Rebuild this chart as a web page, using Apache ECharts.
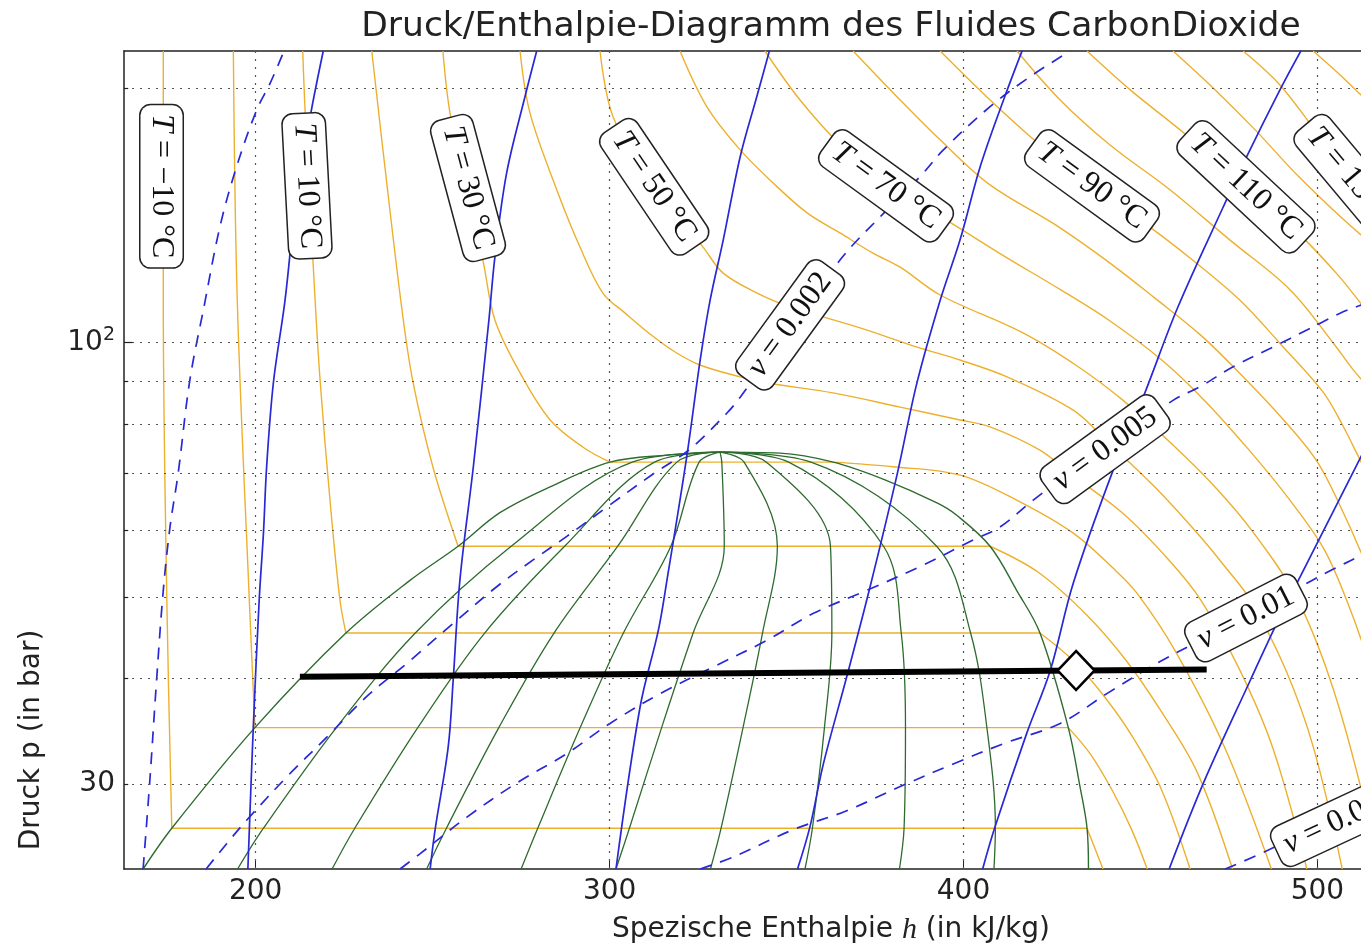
<!DOCTYPE html>
<html>
<head>
<meta charset="utf-8">
<script src="https://cdn.jsdelivr.net/npm/echarts@6.0.0/dist/echarts.min.js"></script>
<style>
html,body{margin:0;padding:0;background:#fff;}
#chart{width:1361px;height:949px;}
</style>
</head>
<body>
<div id="chart"></div>
<script>
// ---------- axes ----------
const hMin = 162.8, hMax = 512.3;          // kJ/kg
const pMin = 23.8,  pMax = 221.6;          // bar
const hTicks = [200, 300, 400, 500];
const pGrid  = [30, 40, 50, 60, 70, 80, 90, 100, 200];
const pMajor = [100];

// ---------- isotherms (h kJ/kg, p bar) ----------
const T_m10_liq = [[173.9,221.6],[173.9,112.3],[174.9,49.6],[176.3,26.6]];
const T_m10_vap = [[434.9,26.6],[439.4,23.8]];
const T_0_liq  = [[193.7,221.6],[194.8,112.3],[198.2,49.6],[199.8,35.0]];
const T_0_vap  = [[429.6,35.0],[436.0,32.5],[442.0,29.5],[447.5,26.5],[451.9,23.8]];
const T_10_liq = [[213.3,221.6],[214.0,187.0],[216.8,112.3],[218.2,90.3],[221.0,65.1],[223.8,49.6],[225.5,45.3]];
const T_10_vap = [[421.6,45.3],[431.0,42.0],[440.0,38.0],[448.0,34.0],[456.0,29.5],[464.0,23.8]];
const T_20_liq = [[232.8,221.6],[237.1,153.8],[241.6,107.3],[244.5,89.6],[250.1,71.2],[257.2,57.4]];
const T_20_vap = [[407.5,57.4],[421.0,53.5],[435.0,47.5],[446.0,42.0],[456.0,36.5],[466.0,31.0],[476.0,23.8]];
const T_30_liq = [[252.9,221.6],[254.9,187.2],[259.5,152.5],[264.2,125.3],[267.6,106.4],[274.7,92.1],[283.2,81.0],[292.5,75.2],[300.1,72.2]];
const T_30_vap = [[363.2,72.2],[380.0,71.3],[399.0,69.7],[415.0,65.1],[431.0,59.5],[442.0,54.2],[449.0,50.5],[460.0,43.0],[474.0,33.0],[487.0,23.8]];
const T_40  = [[274.7,221.6],[277.5,187.2],[285.1,151.7],[291.6,129.9],[298.1,114.5],[304.4,108.4],[311.4,102.4],[318.5,97.5],[325.5,94.1],[336.9,91.1],[344.5,89.6],[363.1,87.2],[382.1,83.9],[399.0,81.0],[407.5,79.5],[421.6,74.6],[430.1,70.0],[445.0,62.8],[458.0,55.3],[467.0,49.6],[478.0,41.0],[487.5,33.0],[497.0,23.8]];
const T_50  = [[297.3,221.6],[301.0,185.1],[312.6,153.0],[326.4,129.8],[332.1,120.9],[341.7,114.5],[351.0,110.2],[360.3,107.3],[372.7,103.5],[386.9,98.8],[399.0,95.4],[412.3,91.1],[431.0,83.2],[441.0,76.1],[454.0,67.5],[466.0,59.5],[474.0,54.2],[481.0,49.6],[491.0,41.0],[499.0,33.0],[507.0,23.8]];
const T_60  = [[319.9,221.6],[327.5,190.3],[336.9,169.2],[346.2,154.6],[355.8,142.5],[365.1,134.9],[374.4,127.7],[382.1,122.9],[393.4,113.9],[416.8,102.7],[432.5,93.6],[445.0,85.5],[458.5,76.1],[471.0,67.5],[482.0,59.5],[494.0,50.0],[503.5,40.0],[512.0,30.0],[517.0,23.8]];
const T_70  = [[343.9,221.6],[353.8,193.9],[366.5,169.2],[377.8,153.8],[395.0,139.8],[411.0,127.0],[427.5,115.5],[441.0,106.4],[456.0,95.4],[468.0,85.5],[480.7,74.6],[492.2,65.1],[502.0,56.8],[509.5,48.0],[516.0,40.0]];
const T_80  = [[368.8,221.6],[380.7,196.6],[393.4,173.9],[407.5,153.8],[426.0,137.9],[441.0,124.6],[454.0,113.0],[467.0,102.1],[478.5,91.6],[490.0,81.4],[500.0,72.2],[508.0,62.0],[513.5,55.0],[520.0,48.0]];
const T_90  = [[393.4,221.6],[407.5,193.9],[421.6,171.5],[435.8,153.8],[449.9,139.8],[464.0,126.0],[478.1,112.3],[489.8,99.4],[501.6,87.4],[507.0,80.0],[512.5,72.0],[518.0,65.0]];
const T_100 = [[415.1,221.6],[427.3,193.9],[441.4,171.5],[458.4,151.7],[475.3,132.3],[492.3,115.5],[504.4,100.0],[510.0,93.0],[516.0,87.0]];
const T_110 = [[434.9,221.6],[447.1,199.3],[461.2,178.7],[479.6,153.8],[495.1,134.2],[506.0,120.0],[512.5,111.0],[518.0,104.0]];
const T_120 = [[459.2,221.6],[471.1,199.3],[482.4,178.7],[495.1,156.7],[512.3,134.2],[522.0,126.0]];
const T_130 = [[479.0,221.6],[489.4,202.0],[500.8,175.3],[512.6,153.4],[523.4,137.9]];
const T_140 = [[498.8,221.6],[506.4,207.6],[512.3,196.6],[523.4,178.7]];

// ---------- isentropes ----------
const S1 = [[197.8,23.8],[199.3,34.8],[201.0,49.6],[202.2,59.5],[203.1,71.3],[205.0,89.6],[208.3,112.3],[211.4,147.6],[215.6,187.2],[219.1,221.6]];
const S2 = [[249.3,23.8],[250.7,26.5],[254.4,33.2],[255.8,39.8],[257.7,52.3],[261.5,71.3],[265.9,106.4],[267.6,126.4],[270.9,158.8],[276.1,195.7],[279.4,221.6]];
const S3 = [[301.8,23.8],[308.6,37.0],[313.8,45.7],[316.2,52.3],[321.8,73.3],[325.6,95.4],[328.4,112.3],[332.1,132.3],[336.9,166.1],[341.6,195.7],[345.2,222.0]];
const S4 = [[353.1,23.8],[356.6,26.7],[360.4,31.7],[367.0,40.2],[373.6,51.4],[381.1,69.4],[386.8,89.5],[393.4,112.3],[399.0,132.3],[404.7,161.6],[411.3,193.9],[416.6,222.0]];
const S5 = [[405.4,23.8],[408.9,26.7],[417.9,34.5],[424.5,40.9],[431.0,51.9],[442.3,70.7],[450.8,86.3],[460.6,110.3],[473.4,144.9],[480.0,166.1],[489.4,199.3],[495.4,222.0]];
const S6 = [[458.1,23.8],[467.8,30.1],[481.0,39.8],[488.5,46.5],[494.2,51.9],[512.3,73.3],[523.1,90.3]];

// ---------- isochores ----------
const V_001 = [[168.2,23.8],[170.1,30.3],[172.0,39.8],[173.9,50.9],[175.8,60.5],[178.1,70.0],[181.4,90.3],[185.4,110.3],[189.9,137.2],[194.6,161.6],[200.3,188.7],[204.1,203.0],[208.0,221.6]];
const V_002 = [[186.0,23.8],[191.8,25.5],[197.5,27.2],[208.8,30.6],[220.1,34.1],[231.4,38.1],[242.7,41.7],[255.8,46.5],[268.1,51.4],[278.4,55.3],[288.0,59.0],[299.3,63.9],[312.3,69.9],[322.7,74.8],[333.1,82.5],[336.9,86.2],[365.1,125.3],[377.4,142.3],[387.7,157.3],[394.3,169.2],[407.5,190.4],[418.8,206.6],[430.1,221.6]];
const V_005 = [[240.8,23.8],[246.4,24.8],[259.6,27.4],[273.8,30.1],[287.9,32.6],[300.1,35.4],[314.3,38.4],[329.3,41.3],[344.4,44.4],[357.6,47.8],[372.7,50.9],[387.7,54.3],[402.8,58.4],[410.3,60.5],[419.7,65.1],[438.6,74.6],[459.3,85.5],[466.8,88.7],[476.3,93.7],[487.6,98.9],[497.0,103.5],[506.4,108.4],[512.3,110.8],[523.4,115.5]];
const V_01  = [[325.6,23.8],[335.0,24.6],[351.9,26.5],[367.0,27.9],[382.1,29.8],[397.1,31.7],[411.3,33.5],[427.3,35.4],[440.5,38.4],[454.6,41.7],[466.8,44.4],[481.0,47.8],[497.0,51.9],[504.4,53.9],[512.3,56.0],[523.4,59.5]];
const V_02  = [[473.9,23.8],[483.8,24.8],[512.3,28.3],[523.4,29.8]];

// ---------- saturation dome and quality lines ----------
const domeLiquid = [[168.2,23.8],[176.3,26.6],[199.8,35.0],[225.5,45.3],[243.6,52.3],[257.2,57.4],[269.0,62.9],[283.2,67.5],[300.1,72.2],[316.2,73.6],[331.2,74.2]];
const domeVapor  = [[331.2,74.2],[348.2,74.0],[363.2,72.2],[377.8,68.8],[392.5,64.6],[398.0,62.5],[407.5,57.4],[415.0,50.9],[421.6,45.3],[429.6,35.0],[432.9,29.8],[434.9,26.6],[435.3,23.8]];
const X1 = [[194.9,23.8],[202.2,26.6],[222.8,35.0],[245.1,45.3],[272.2,57.4],[306.4,72.2],[331.2,74.2]];
const X2 = [[221.6,23.8],[228.0,26.6],[245.8,35.0],[264.7,45.3],[287.3,57.4],[312.7,72.2],[331.2,74.2]];
const X3 = [[248.3,23.8],[253.9,26.6],[268.7,35.0],[284.3,45.3],[302.3,57.4],[319.0,72.2],[331.2,74.2]];
const X4 = [[275.0,23.8],[279.7,26.6],[291.7,35.0],[303.9,45.3],[317.3,57.4],[325.3,72.2],[331.2,74.2]];
const X5 = [[301.8,23.8],[305.6,26.6],[314.7,35.0],[323.6,45.3],[332.4,57.4],[331.7,72.2],[331.2,74.2]];
const X6 = [[328.5,23.8],[331.5,26.6],[337.7,35.0],[343.2,45.3],[347.4,57.4],[338.0,72.2],[331.2,74.2]];
const X7 = [[355.2,23.8],[357.3,26.6],[360.7,35.0],[362.8,45.3],[362.4,57.4],[344.3,72.2],[331.2,74.2]];
const X8 = [[381.9,23.8],[383.2,26.6],[383.6,35.0],[382.4,45.3],[377.4,57.4],[350.6,72.2],[331.2,74.2]];
const X9 = [[408.6,23.8],[409.0,26.6],[406.6,35.0],[402.0,45.3],[392.4,57.4],[356.9,72.2],[331.2,74.2]];

// ---------- process line ----------
const processLine  = [[212.5,40.2],[468.7,41.0]];
const processPoint = [[431.8,40.9]];

// ---------- boxed labels ----------
const labelVar   = ['T','T','T','T','T','T','T','T','v','v','v','v'];
const labelRest  = [' = −10 °C',' = 10 °C',' = 30 °C',' = 50 °C',' = 70 °C',' = 90 °C',' = 110 °C',' = 130 °C',' = 0.002',' = 0.005',' = 0.01',' = 0.02'];
const labelH     = [173.4, 214.5, 260.0, 312.6, 378.1, 436.3, 479.8, 511.5, 351.0, 440.0, 479.8, 504.2];
const labelP     = [153.2, 153.4, 152.5, 153.0, 153.4, 153.4, 153.0, 153.4, 105.0, 74.8, 47.2, 26.9];
const labelAngle = [-90, -87, -75, -56, -36, -36, -43, -50, 54, 36, 27, 25];

// ---------- build ----------
const ORANGE = '#EDB02E', BLUE = '#2828D6', GREEN = '#2E6B2E';
function curve(data, color, width, extra) {
  return Object.assign({
    type: 'line', data: data, showSymbol: false, symbol: 'none', smooth: 0.35,
    silent: true, animation: false, z: 3, clip: true,
    lineStyle: { color: color, width: width }
  }, extra || {});
}
const series = [];

// grid lines + y labels (markLine on a hidden series)
const yLabelStyle = { color: '#222', fontSize: 28, fontFamily: 'DejaVu Sans' };
const mlData = pGrid.map(function (p) {
  const item = { yAxis: p };
  if (p === 30) item.label = Object.assign({ show: true, position: 'start', distance: 9, formatter: '30' }, yLabelStyle);
  if (p === 100) item.label = {
    show: true, position: 'start', distance: 9, formatter: '{a|10}{b|2}',
    rich: {
      a: { fontSize: 28, fontFamily: 'DejaVu Sans', color: '#222', lineHeight: 34 },
      b: { fontSize: 19, fontFamily: 'DejaVu Sans', color: '#222', lineHeight: 10, verticalAlign: 'top' }
    }
  };
  return item;
}).concat(hTicks.map(function (h) { return { xAxis: h }; }));
series.push({
  type: 'line', data: [[300, 50]], symbol: 'none', showSymbol: false, silent: true, animation: false,
  lineStyle: { opacity: 0 }, z: 1,
  markLine: {
    silent: true, animation: false, symbol: ['none', 'none'],
    label: { show: false },
    lineStyle: { color: '#555', width: 1.2, type: [2, 6] },
    emphasis: { disabled: true },
    data: mlData
  }
});
// inward y ticks (short segments from the left axis)
series.push({
  type: 'line', data: [[300, 50]], symbol: 'none', showSymbol: false, silent: true, animation: false,
  lineStyle: { opacity: 0 }, z: 5,
  markLine: {
    silent: true, animation: false, symbol: ['none', 'none'],
    label: { show: false },
    lineStyle: { color: '#222', width: 1.2, type: 'solid' },
    emphasis: { disabled: true },
    data: pGrid.map(function (p) {
      const len = pMajor.indexOf(p) >= 0 ? 2.4 : 1.2;
      return [{ coord: [hMin, p] }, { coord: [hMin + len, p] }];
    })
  }
});

// isotherms
[[T_m10_liq, T_m10_vap], [T_0_liq, T_0_vap], [T_10_liq, T_10_vap], [T_20_liq, T_20_vap], [T_30_liq, T_30_vap]].forEach(function (pair) {
  const liq = pair[0], vap = pair[1];
  series.push(curve(liq, ORANGE, 1.4, { z: 2 }));
  series.push(curve([liq[liq.length - 1], vap[0]], ORANGE, 1.4, { z: 2, smooth: false }));
  series.push(curve(vap, ORANGE, 1.4, { z: 2 }));
});
[T_40, T_50, T_60, T_70, T_80, T_90, T_100, T_110, T_120, T_130, T_140].forEach(function (d) {
  series.push(curve(d, ORANGE, 1.4, { z: 2 }));
});
// dome and quality
series.push(curve(domeLiquid, GREEN, 1.4, { z: 3 }));
series.push(curve(domeVapor, GREEN, 1.4, { z: 3 }));
[X1, X2, X3, X4, X5, X6, X7, X8, X9].forEach(function (d) {
  series.push(curve(d, GREEN, 1.3, { z: 3 }));
});
// isentropes
[S1, S2, S3, S4, S5, S6].forEach(function (d) {
  series.push(curve(d, BLUE, 1.7, { z: 4 }));
});
// isochores
[V_001, V_002, V_005, V_01, V_02].forEach(function (d) {
  series.push(curve(d, BLUE, 1.7, { z: 4, lineStyle: { color: BLUE, width: 1.7, type: [12, 9] } }));
});
// process line + marker
series.push(curve(processLine, '#000', 6, { z: 6, smooth: false }));
series.push({
  type: 'scatter', data: processPoint, symbol: 'diamond', symbolSize: [37, 39], silent: true, animation: false, z: 7,
  itemStyle: { color: '#fff', borderColor: '#000', borderWidth: 2.5, opacity: 1 }
});
// boxed labels
series.push({
  type: 'scatter', silent: true, animation: false, z: 10, clip: false,
  symbolSize: 0.1, itemStyle: { color: 'rgba(0,0,0,0)', opacity: 1 },
  label: {
    show: true, position: 'inside', backgroundColor: '#ffffff', borderColor: '#222', borderWidth: 1.5,
    borderRadius: 10, padding: [5, 9], opacity: 1,
    rich: {
      i: { fontFamily: 'Liberation Serif', fontStyle: 'italic', fontSize: 32, color: '#111' },
      n: { fontFamily: 'Liberation Serif', fontSize: 32, color: '#111' }
    }
  },
  data: labelH.map(function (h, k) {
    return {
      value: [h, labelP[k]],
      label: { rotate: labelAngle[k], formatter: '{i|' + labelVar[k] + '}{n|' + labelRest[k] + '}' }
    };
  })
});

const chart = echarts.init(document.getElementById('chart'), null, { renderer: 'canvas' });
chart.setOption({
  animation: false,
  backgroundColor: '#fff',
  grid: { left: 124, right: 0, top: 51, bottom: 80 },
  xAxis: [{
    type: 'value', min: hMin, max: hMax,
    axisLine: { show: true, lineStyle: { color: '#222', width: 1.5 } },
    axisTick: { show: true, inside: true, length: 8, customValues: hTicks, lineStyle: { color: '#222' } },
    axisLabel: { customValues: hTicks, fontSize: 28, fontFamily: 'DejaVu Sans', color: '#222', margin: 9 },
    splitLine: { show: false }
  }, {
    type: 'value', min: hMin, max: hMax, position: 'top',
    axisLine: { show: true, lineStyle: { color: '#222', width: 1.5 } },
    axisTick: { show: false }, axisLabel: { show: false }, splitLine: { show: false }
  }],
  yAxis: {
    type: 'log', logBase: 10, min: pMin, max: pMax,
    axisLine: { show: true, lineStyle: { color: '#222', width: 1.5 } },
    axisTick: { show: false }, axisLabel: { show: false }, splitLine: { show: false }
  },
  graphic: [
    { type: 'text', x: 831, y: 27, silent: true,
      style: { text: 'Druck/Enthalpie-Diagramm des Fluides CarbonDioxide', font: '34.5px "DejaVu Sans"', fill: '#222', align: 'center', verticalAlign: 'middle' } },
    { type: 'text', x: 831, y: 930, silent: true,
      style: { text: '{n|Spezische Enthalpie }{i|h}{n| (in kJ/kg)}', align: 'center', verticalAlign: 'middle',
        rich: { n: { font: '28px "DejaVu Sans"', fill: '#222' }, i: { font: 'italic 30px "Liberation Serif"', fill: '#222' } } } },
    { type: 'text', x: 32, y: 740, rotation: Math.PI / 2, silent: true,
      style: { text: 'Druck p (in bar)', font: '28px "DejaVu Sans"', fill: '#222', align: 'center', verticalAlign: 'middle' } }
  ],
  series: series
});
</script>
</body>
</html>
